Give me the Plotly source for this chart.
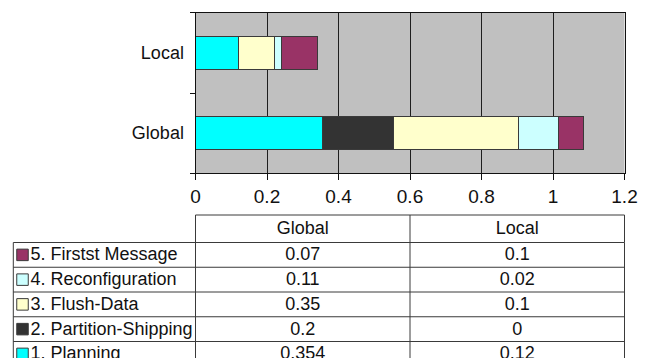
import plotly.graph_objects as go

# Phase durations for the two reconfiguration scopes
scopes = ["Global", "Local"]
phases = ["1. Planning", "2. Partition-Shipping", "3. Flush-Data",
          "4. Reconfiguration", "5. Firstst Message"]
global_vals = [0.354, 0.2, 0.35, 0.11, 0.07]
local_vals = [0.12, 0, 0.1, 0.02, 0.1]
phase_colors = ["#00FFFF", "#333333", "#FFFFCC", "#CCFFFF", "#993366"]
x_ticks = [0, 0.2, 0.4, 0.6, 0.8, 1, 1.2]

W, H = 648, 358
FONT = "Liberation Sans, Arial, sans-serif"
EDGE = "#3a3a3a"
TXT = "#111111"

# chart plot-area box, in page pixels
PL, PR, PT, PB = 195.5, 624.5, 12.7, 173.3
# table sub-plot spans page pixels TABLE_TOP..H (axis units = pixels)
TABLE_TOP = 205

fig = go.Figure()
for name, g, l, c in zip(phases, global_vals, local_vals, phase_colors):
    fig.add_trace(go.Bar(
        y=scopes, x=[g, l], name=name, orientation="h",
        marker=dict(color=c, line=dict(color=EDGE, width=1)),
        showlegend=False, hoverinfo="x+name",
    ))

# ---- data table under the chart (drawn on its own clipped axes) ----
table_left = 13.3
col_edges = [PL, (PL + PR) / 2, PR]
col_mid = [(col_edges[i] + col_edges[i + 1]) / 2 for i in range(2)]
head_top, head_bot = 215, 242.5
row_h = 24.75
n_rows = len(phases)
row_tops = [head_bot + i * row_h for i in range(n_rows)]
table_bottom = row_tops[-1] + row_h

shapes = [dict(type="rect", xref="x2", yref="y2", layer="below",
               x0=0, x1=W, y0=TABLE_TOP, y1=H,
               fillcolor="white", line=dict(width=0))]


def seg(x0, x1, y0, y1):
    shapes.append(dict(type="line", xref="x2", yref="y2",
                       x0=x0, x1=x1, y0=y0, y1=y1,
                       line=dict(color=EDGE, width=1)))


# header cells
seg(PL, PR, head_top, head_top)
for x in col_edges:
    seg(x, x, head_top, head_bot)
# body grid
for y in row_tops + [table_bottom]:
    seg(table_left, PR, y, y)
for x in [table_left] + col_edges:
    seg(x, x, head_bot, table_bottom)

# rows listed top-down: last phase first
order = list(range(n_rows - 1, -1, -1))
row_y = [row_tops[r] + row_h / 2 + 1 for r in range(n_rows)]

tkw = dict(xaxis="x2", yaxis="y2", mode="text", showlegend=False,
           hoverinfo="skip", cliponaxis=True)
fig.add_trace(go.Scatter(
    x=col_mid, y=[(head_top + head_bot) / 2 + 0.5] * 2, text=scopes,
    textposition="middle center",
    textfont=dict(family=FONT, size=18, color=TXT), **tkw))
fig.add_trace(go.Scatter(
    x=[30.5] * n_rows, y=row_y, text=[phases[k] for k in order],
    textposition="middle right",
    textfont=dict(family=FONT, size=18, color=TXT), **tkw))
for i, vals in enumerate([global_vals, local_vals]):
    fig.add_trace(go.Scatter(
        x=[col_mid[i]] * n_rows, y=row_y, text=[f"{vals[k]:g}" for k in order],
        textposition="middle center",
        textfont=dict(family=FONT, size=18, color=TXT), **tkw))
# colour keys
fig.add_trace(go.Scatter(
    x=[22.5] * n_rows, y=[y - 1 for y in row_y], mode="markers",
    marker=dict(symbol="square", size=11.5,
                color=[phase_colors[k] for k in order],
                line=dict(color=EDGE, width=1)),
    xaxis="x2", yaxis="y2", showlegend=False, hoverinfo="skip",
    cliponaxis=True))

fig.update_layout(
    width=W, height=H,
    margin=dict(l=0, r=0, t=0, b=0, autoexpand=False),
    paper_bgcolor="white",
    plot_bgcolor="#C0C0C0",
    barmode="stack",
    bargap=0.594,
    shapes=shapes,
    font=dict(family=FONT, color=TXT),
    xaxis=dict(
        domain=[PL / W, PR / W], range=[0, 1.2], tickvals=x_ticks,
        showgrid=True, gridcolor="#1e1e1e", gridwidth=1,
        showline=True, linecolor=TXT, linewidth=1, mirror=True,
        ticks="outside", ticklen=6, tickcolor=TXT, automargin=False,
        zeroline=False, tickfont=dict(size=19, family=FONT, color=TXT),
    ),
    yaxis=dict(
        domain=[1 - PB / H, 1 - PT / H], categoryorder="array",
        categoryarray=scopes, automargin=False,
        showline=True, linecolor=TXT, linewidth=1, mirror=True,
        ticks="outside", ticklen=5, tickcolor=TXT, tickson="boundaries",
        showgrid=False, tickfont=dict(size=18, family=FONT, color=TXT),
        ticklabelstandoff=7,
    ),
    xaxis2=dict(domain=[0, 1], range=[0, W], visible=False,
                fixedrange=True, automargin=False),
    yaxis2=dict(domain=[0, 1 - TABLE_TOP / H], range=[H, TABLE_TOP],
                visible=False, fixedrange=True, automargin=False),
)

fig.write_html("out.html")
